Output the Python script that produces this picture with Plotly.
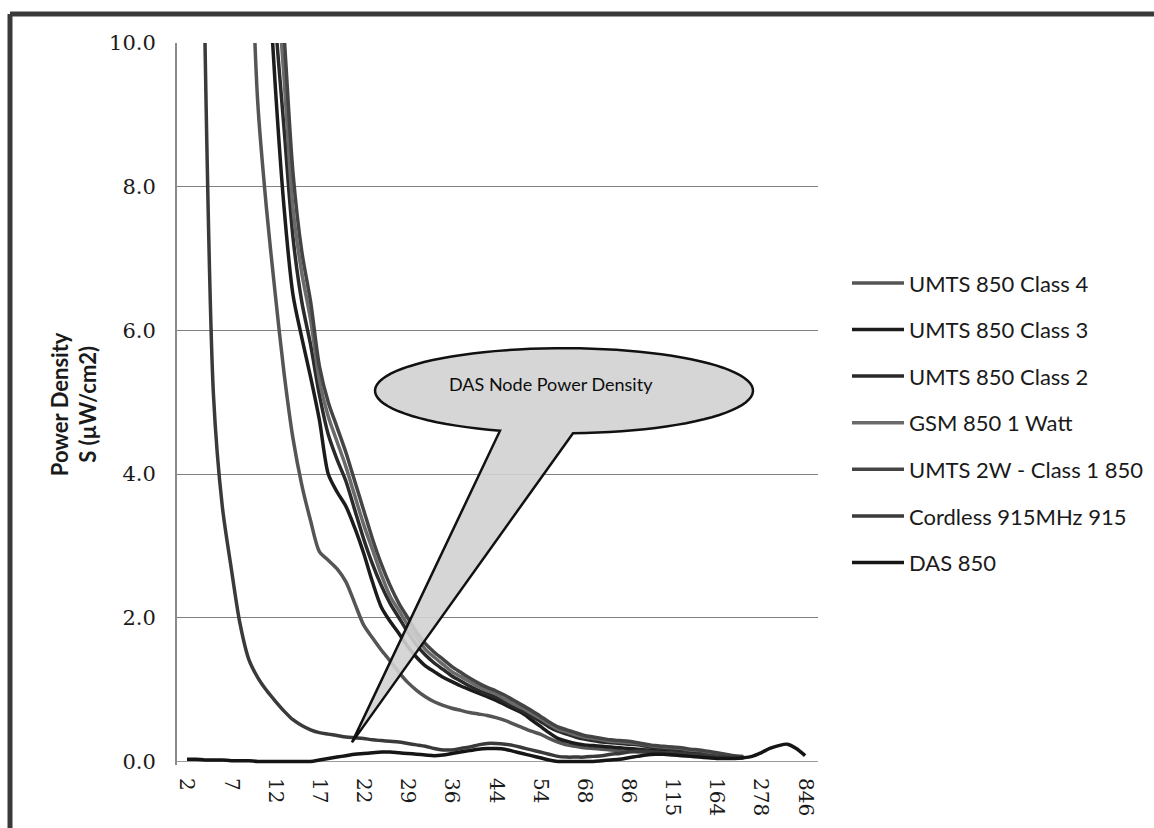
import math
import plotly.graph_objects as go

# ---------------- data ----------------
tick_labels = ["2", "7", "12", "17", "22", "29", "36", "44", "54", "68", "86", "115", "164", "278", "846"]
n_categories = 71
categories = list(range(n_categories))          # category index (every 5th one is labelled)
tick_positions = list(range(0, n_categories, 5))

umts_class4 = [150, 90, 60, 43, 32, 24, 17.5, 12.5, 9.2, 7.7, 6.5, 5.4, 4.5, 3.85, 3.35, 2.92, 2.8, 2.68, 2.5, 2.2,
               1.9, 1.72, 1.55, 1.4, 1.24, 1.1, 0.99, 0.9, 0.83, 0.78, 0.74, 0.71, 0.68, 0.66, 0.64, 0.61, 0.57, 0.52,
               0.47, 0.42, 0.38, 0.32, 0.27, 0.23, 0.21, 0.19, 0.18, 0.17, 0.16, 0.15, 0.14, 0.13, 0.13, 0.12, 0.12,
               0.11, 0.11, 0.10, 0.09, 0.08, 0.07, 0.06, 0.05, 0.05]
umts_class3 = [200, 120, 80, 55, 40, 30, 23, 18, 14.2, 11.5, 9.4, 7.7, 6.5, 5.9, 5.35, 4.75, 4.0, 3.75, 3.55, 3.25,
               2.9, 2.5, 2.15, 1.95, 1.78, 1.6, 1.45, 1.33, 1.25, 1.17, 1.11, 1.05, 1.0, 0.95, 0.9, 0.85, 0.79, 0.73,
               0.67, 0.58, 0.49, 0.4, 0.32, 0.28, 0.25, 0.23, 0.22, 0.21, 0.2, 0.19, 0.18, 0.17, 0.16, 0.15, 0.14,
               0.13, 0.12, 0.11, 0.1, 0.09, 0.08, 0.07, 0.06, 0.05]
umts_class2 = [280, 140, 80, 52, 37, 27, 21, 16.5, 13.8, 12.0, 10.3, 8.8, 7.3, 6.4, 5.8, 5.1, 4.55, 4.2, 3.9, 3.5,
               3.1, 2.75, 2.45, 2.2, 2.0, 1.8, 1.62, 1.48, 1.37, 1.28, 1.19, 1.12, 1.05, 0.99, 0.94, 0.89, 0.83, 0.76,
               0.70, 0.63, 0.56, 0.48, 0.42, 0.38, 0.34, 0.31, 0.29, 0.27, 0.26, 0.25, 0.24, 0.23, 0.21, 0.19, 0.18,
               0.17, 0.16, 0.15, 0.13, 0.12, 0.1, 0.08, 0.07, 0.06]
gsm_1w = [300, 150, 90, 60, 42, 31, 24, 19, 15.5, 13.0, 11.2, 9.5, 7.7, 6.8, 6.15, 5.3, 4.8, 4.45, 4.1, 3.7,
          3.3, 2.95, 2.6, 2.3, 2.1, 1.9, 1.72, 1.56, 1.45, 1.35, 1.25, 1.18, 1.11, 1.04, 0.99, 0.94, 0.87, 0.8,
          0.74, 0.67, 0.6, 0.52, 0.45, 0.41, 0.37, 0.34, 0.32, 0.30, 0.28, 0.27, 0.26, 0.25, 0.23, 0.21, 0.2,
          0.19, 0.18, 0.16, 0.15, 0.13, 0.11, 0.09, 0.07, 0.06]
umts_2w_class1 = [320, 160, 95, 64, 45, 33, 26, 20.5, 16.5, 13.8, 11.8, 10.1, 8.2, 7.1, 6.4, 5.5, 5.0, 4.65, 4.3, 3.9,
                  3.5, 3.1, 2.75, 2.45, 2.2, 2.0, 1.8, 1.64, 1.52, 1.42, 1.32, 1.24, 1.16, 1.09, 1.03, 0.98, 0.92,
                  0.85, 0.78, 0.71, 0.63, 0.55, 0.48, 0.44, 0.4, 0.36, 0.34, 0.32, 0.3, 0.29, 0.28, 0.26, 0.24, 0.22,
                  0.21, 0.2, 0.19, 0.17, 0.16, 0.14, 0.12, 0.1, 0.08, 0.07]
cordless_915 = [60, 22, 10.3, 5.1, 3.55, 2.7, 1.92, 1.42, 1.17, 0.99, 0.84, 0.7, 0.58, 0.5, 0.44, 0.40, 0.38, 0.36,
                0.34, 0.33, 0.32, 0.30, 0.29, 0.28, 0.27, 0.25, 0.23, 0.21, 0.18, 0.16, 0.16, 0.18, 0.2, 0.23, 0.25,
                0.25, 0.24, 0.22, 0.19, 0.16, 0.13, 0.1, 0.07, 0.06, 0.06, 0.06, 0.07, 0.08, 0.1, 0.11, 0.13, 0.14,
                0.14, 0.13, 0.12, 0.12, 0.11, 0.1, 0.09, 0.08, 0.07, 0.06, 0.06, 0.05]
das_850 = [0.03, 0.03, 0.02, 0.02, 0.02, 0.01, 0.01, 0.01, 0.0, 0.0, 0.0, 0.0, 0.0, 0.0, 0.0, 0.02, 0.04, 0.06, 0.08,
           0.1, 0.11, 0.12, 0.13, 0.13, 0.12, 0.11, 0.1, 0.09, 0.08, 0.09, 0.11, 0.13, 0.15, 0.17, 0.18, 0.18, 0.17,
           0.14, 0.11, 0.08, 0.05, 0.02, 0.0, 0.0, 0.0, 0.0, 0.0, 0.01, 0.02, 0.03, 0.05, 0.07, 0.09, 0.10, 0.10,
           0.09, 0.08, 0.07, 0.06, 0.05, 0.04, 0.04, 0.04, 0.05, 0.07, 0.12, 0.18, 0.22, 0.24, 0.18, 0.08]

series = [
    ("UMTS 850 Class 4", umts_class4, "#555555"),
    ("UMTS 850 Class 3", umts_class3, "#1c1c1c"),
    ("UMTS 850 Class 2", umts_class2, "#2a2a2a"),
    ("GSM 850 1 Watt", gsm_1w, "#6a6a6a"),
    ("UMTS 2W - Class 1 850", umts_2w_class1, "#444444"),
    ("Cordless 915MHz 915", cordless_915, "#3a3a3a"),
    ("DAS 850", das_850, "#151515"),
]

# ---------------- layout geometry (pixels) ----------------
W, H = 1154, 828
PL, PR = 177, 818            # plot area left/right
PT, PB = 43, 764.6           # plot area top/bottom
PW, PH = PR - PL, PB - PT


def paper(x, y):
    return (x - PL) / PW, (PB - y) / PH


fig = go.Figure()
for name, vals, col in series:
    fig.add_trace(go.Scatter(
        x=categories[:len(vals)], y=vals, name=name, mode="lines",
        line=dict(color=col, width=3.5, shape="spline", smoothing=0.8),
        legendgroup=name, hoverinfo="skip"))

# callout: ellipse with a pointer, built as one path
cx, cy, rx, ry = 564, 390.5, 189, 42.5
left_base_x, right_base_x = 500, 573
tip = (352, 742)
t0 = math.acos((left_base_x - cx) / rx)
t1 = math.acos((right_base_x - cx) / rx) + 2 * math.pi
pts = []
steps = 90
for k in range(steps + 1):
    t = t0 + (t1 - t0) * k / steps
    pts.append((cx + rx * math.cos(t), cy + ry * math.sin(t)))
pts.append(tip)
path = "M " + " L ".join("%.5f,%.5f" % paper(px, py) for px, py in pts) + " Z"

bx0, by0 = paper(10, 14)
bx1, _ = paper(1154, 0)
_, by1 = paper(0, 828)
shapes = [
    dict(type="path", xref="paper", yref="paper", path=path,
         fillcolor="rgba(210,210,210,0.9)", line=dict(color="#111111", width=2.5), layer="above"),
    # outer chart border (top and left edges)
    dict(type="line", xref="paper", yref="paper", x0=bx0, x1=bx1, y0=by0, y1=by0,
         line=dict(color="#3a3a3a", width=5), layer="below"),
    dict(type="line", xref="paper", yref="paper", x0=bx0, x1=bx0, y0=by0, y1=by1,
         line=dict(color="#3a3a3a", width=5), layer="below"),
]

annotations = [
    dict(text="DAS Node Power Density", xref="paper", yref="paper",
         x=paper(551, 0)[0], y=paper(0, 384)[1], xanchor="center", yanchor="middle", showarrow=False,
         font=dict(family="Lato", size=18, color="#0d0d0d")),
    dict(text="<b>Power Density<br>S (µW/cm2)</b>", xref="paper", yref="paper",
         x=paper(74, 0)[0], y=paper(0, 404)[1], xanchor="center", yanchor="middle",
         showarrow=False, textangle=-90,
         font=dict(family="Lato", size=22, color="#1a1a1a")),
]

fig.update_layout(
    width=W, height=H,
    margin=dict(l=PL, r=W - PR, t=PT, b=H - PB, pad=0, autoexpand=False),
    paper_bgcolor="white", plot_bgcolor="white",
    showlegend=True,
    legend=dict(x=paper(847, 0)[0], y=paper(0, 262)[1], xanchor="left", yanchor="top",
                traceorder="grouped", tracegroupgap=15, itemwidth=52,
                font=dict(family="Lato", size=22, color="#1a1a1a"),
                bgcolor="rgba(0,0,0,0)", borderwidth=0),
    shapes=shapes, annotations=annotations,
    xaxis=dict(range=[-1.13, 71.46], tickmode="array", tickvals=tick_positions, ticktext=tick_labels,
               tickangle=90, showgrid=False, zeroline=False, showline=False, ticks="",
               ticklabelstandoff=12,
               tickfont=dict(family="DejaVu Serif", size=20, color="#1a1a1a")),
    yaxis=dict(range=[-0.05, 10], tickmode="array", tickvals=[0, 2, 4, 6, 8, 10],
               ticktext=["0.0", "2.0", "4.0", "6.0", "8.0", "10.0"],
               showgrid=True, gridcolor="#808080", gridwidth=1,
               zeroline=True, zerolinecolor="#9a9a9a", zerolinewidth=1,
               showline=True, linecolor="#8a8a8a", linewidth=2, ticks="",
               ticklabelstandoff=15,
               tickfont=dict(family="DejaVu Serif", size=21, color="#1a1a1a")),
)

fig.write_html("out.html", config={"displayModeBar": False},
               post_script="document.body.style.margin='0';document.body.style.overflow='hidden';")
